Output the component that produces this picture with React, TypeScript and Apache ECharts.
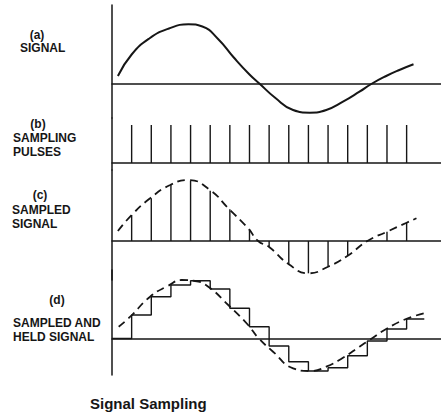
import React, { useEffect, useRef } from "react";
import * as echarts from "echarts";

// time in sample periods (0 = vertical axis), amplitude in arbitrary units
const sampleTimes = [1, 2, 3, 4, 5, 6, 7, 8, 9, 10, 11, 12, 13, 14, 15];

const signalA: [number, number][] = [
  [0.3, 0.8], [1.0, 2.95], [1.9, 4.55], [2.9, 5.55], [3.89, 5.97],
  [4.6, 5.75], [5.4, 4.5], [6.2, 2.65], [7.0, 0.95], [7.53, 0],
  [8.29, -1.35], [9.22, -2.6], [10.07, -2.87], [10.91, -2.6], [11.76, -1.77],
  [12.6, -0.77], [13.2, 0], [13.96, 0.8], [14.63, 1.4], [15.35, 1.97],
];

const pulseHeights = [3.8, 3.8, 3.8, 3.8, 3.8, 3.8, 3.8, 3.8, 3.8, 3.8, 3.8, 3.8, 3.8, 3.8, 3.8];

const signalC: [number, number][] = [
  [0.3, 1.0], [1.0, 2.6], [1.94, 4.27], [2.96, 5.6], [3.89, 6.1], [4.99, 5.1],
  [5.92, 3.27], [6.93, 1.27], [7.44, 0], [8.0, -0.6], [9.0, -2.33], [10.0, -3.23],
  [11.0, -2.57], [12.0, -1.47], [13.0, 0], [14.0, 0.93], [15.0, 1.83], [15.5, 2.27],
];
const sampledC = [2.6, 4.27, 5.6, 6.03, 5.03, 3.17, 1.17, -0.57, -2.33, -3.23, -2.57, -1.47, 0.05, 0.93, 1.83];

const signalD: [number, number][] = [
  [0.34, 1.18], [0.93, 2.18], [1.94, 4.18], [2.87, 5.28], [3.55, 5.85], [4.23, 5.75],
  [4.9, 5.18], [5.92, 3.35], [6.93, 1.35], [7.44, 0.08], [8.2, -1.32], [9.22, -2.98],
  [10.07, -3.25], [10.91, -2.82], [11.76, -1.92], [12.6, -0.82], [13.11, -0.15],
  [13.96, 0.95], [14.97, 1.95], [15.9, 2.52],
];
const heldD = [2.35, 4.18, 5.35, 5.78, 4.95, 3.02, 1.18, -0.75, -2.32, -3.25, -2.92, -1.72, -0.25, 0.95, 1.95];
const holdEnd = 15.9;

const panelLetters = ["(a)", "(b)", "(c)", "(d)"];
const panelNames = [["SIGNAL"], ["SAMPLING", "PULSES"], ["SAMPLED", "SIGNAL"], ["SAMPLED AND", "HELD SIGNAL"]];
const chartTitle = "Signal Sampling";

const INK = "#161616";
const FONT = "'Liberation Sans', Arial, sans-serif";

export default function App() {
  const ref = useRef<HTMLDivElement>(null);
  useEffect(() => {
    if (!ref.current) return;
    const chart = echarts.init(ref.current, undefined, { renderer: "svg" });

    const grids = [
      { left: 112, right: 0, top: 5, height: 113 },
      { left: 112, right: 0, top: 118, height: 52 },
      { left: 112, right: 0, top: 170, height: 110 },
      { left: 112, right: 0, top: 270, height: 105 },
    ];
    const yRanges = [
      [-3.4, 7.9],
      [-0.7, 4.5],
      [-3.9, 7.1],
      [-3.65, 6.85],
    ];
    const xAxis = grids.map((_, i) => ({
      type: "value" as const,
      gridIndex: i,
      min: 0,
      max: 16.75,
      axisLine: { show: true, onZero: true, lineStyle: { color: INK, width: 1.5 } },
      axisTick: { show: false },
      axisLabel: { show: false },
      splitLine: { show: false },
    }));
    const yAxis = yRanges.map((r, i) => ({
      type: "value" as const,
      gridIndex: i,
      min: r[0],
      max: r[1],
      axisLine: { show: true, onZero: false, lineStyle: { color: INK, width: 1.5 } },
      axisTick: { show: false },
      axisLabel: { show: false },
      splitLine: { show: false },
    }));

    const stem = (width: number) => (params: any, api: any) => {
      const t = api.value(0);
      const v = api.value(1);
      const p0 = api.coord([t, 0]);
      const p1 = api.coord([t, v]);
      return {
        type: "line",
        shape: { x1: p0[0], y1: p0[1], x2: p1[0], y2: p1[1] },
        style: { stroke: INK, lineWidth: width },
      };
    };

    const heldData: [number, number][] = [[0, 0]];
    sampleTimes.forEach((t, i) => heldData.push([t, heldD[i]]));
    heldData.push([holdEnd, heldD[heldD.length - 1]]);

    const labelGraphics: any[] = [];
    const letterPos = [
      [37, 35], [38, 124], [40, 195], [57, 300],
    ];
    const nameLeft = [20, 13, 12, 13];
    const nameTop = [48, 138, 210, 323];
    panelLetters.forEach((l, i) => {
      labelGraphics.push({
        type: "text",
        x: letterPos[i][0],
        y: letterPos[i][1],
        style: { text: l, fill: INK, font: `bold 12px ${FONT}`, textAlign: "center", textVerticalAlign: "middle" },
      });
      panelNames[i].forEach((n, j) => {
        labelGraphics.push({
          type: "text",
          x: nameLeft[i],
          y: nameTop[i] + j * 13.5,
          style: { text: n, fill: INK, font: `bold 12px ${FONT}`, textAlign: "left", textVerticalAlign: "middle" },
        });
      });
    });

    chart.setOption({
      animation: false,
      backgroundColor: "#ffffff",
      title: {
        text: chartTitle,
        left: 85,
        top: 391,
        textStyle: { color: INK, fontSize: 15, fontWeight: "bold", fontFamily: FONT },
      },
      grid: grids,
      xAxis,
      yAxis,
      graphic: labelGraphics,
      series: [
        {
          type: "line",
          xAxisIndex: 0,
          yAxisIndex: 0,
          data: signalA,
          smooth: 0.5,
          showSymbol: false,
          lineStyle: { color: INK, width: 2 },
        },
        {
          type: "custom",
          xAxisIndex: 1,
          yAxisIndex: 1,
          data: sampleTimes.map((t, i) => [t, pulseHeights[i]]),
          renderItem: stem(1.4),
        },
        {
          type: "custom",
          xAxisIndex: 2,
          yAxisIndex: 2,
          data: sampleTimes.map((t, i) => [t, sampledC[i]]),
          renderItem: stem(1.4),
        },
        {
          type: "line",
          xAxisIndex: 2,
          yAxisIndex: 2,
          data: signalC,
          smooth: 0.5,
          showSymbol: false,
          lineStyle: { color: INK, width: 1.8, type: [8, 5] },
        },
        {
          type: "line",
          xAxisIndex: 3,
          yAxisIndex: 3,
          data: heldData,
          step: "end",
          showSymbol: false,
          lineStyle: { color: INK, width: 1.4 },
        },
        {
          type: "line",
          xAxisIndex: 3,
          yAxisIndex: 3,
          data: signalD,
          smooth: 0.5,
          showSymbol: false,
          lineStyle: { color: INK, width: 1.8, type: [8, 5] },
        },
      ],
    });
    return () => chart.dispose();
  }, []);
  return (
    <div
      ref={ref}
      style={{ position: "fixed", left: 0, top: 0, width: 441, height: 417, background: "#fff" }}
    />
  );
}
